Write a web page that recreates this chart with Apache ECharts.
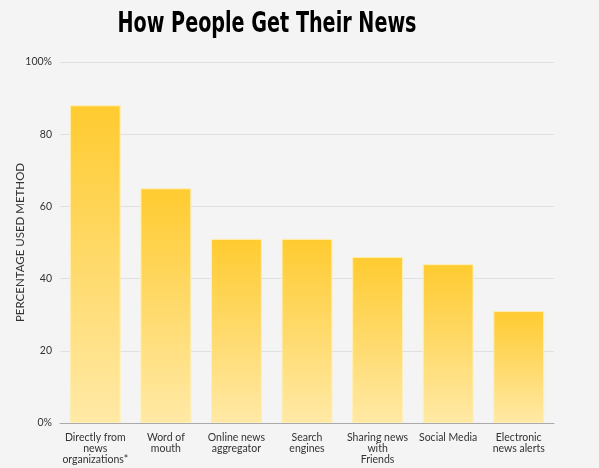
<!DOCTYPE html>
<html><head><meta charset="utf-8">
<script src="https://cdn.jsdelivr.net/npm/echarts@6/dist/echarts.min.js"></script>
<style>html,body{margin:0;padding:0;background:#f4f4f4}#c{width:599px;height:468px}</style>
</head><body><div id="c"></div>
<script>
const categories = ["Directly from\nnews\norganizations*", "Word of\nmouth", "Online news\naggregator", "Search\nengines", "Sharing news\nwith\nFriends", "Social Media", "Electronic\nnews alerts"];
const values = [88, 65, 51, 51, 46, 44, 31];
const yTicks = [0, 20, 40, 60, 80, 100];
const titleText = 'How People Get Their News';

const chart = echarts.init(document.getElementById('c'));
chart.setOption({
  backgroundColor: '#f4f4f4',
  graphic: [{
    type: 'text', x: 267, y: 24, scaleX: 0.735,
    style: { text: titleText, fontFamily: 'DejaVu Sans Condensed', fontWeight: 'bold', fontSize: 29,
      fill: '#000', align: 'center', verticalAlign: 'middle' }
  }],
  grid: { left: 60, right: 45, top: 62, bottom: 45, outerBoundsMode: 'none', containLabel: false },
  xAxis: {
    type: 'category', data: categories,
    axisTick: { show: false },
    axisLine: { lineStyle: { color: '#aaa', width: 1 } },
    axisLabel: { interval: 0, color: '#333', fontFamily: 'Lato', fontSize: 10.5, lineHeight: 11, margin: 9 }
  },
  yAxis: {
    type: 'value', min: 0, max: 100, interval: 20,
    name: 'PERCENTAGE USED METHOD', nameLocation: 'middle', nameGap: 34, nameRotate: 90,
    nameMoveOverlap: false,
    nameTextStyle: { color: '#333', fontFamily: 'Lato', fontSize: 11.5 },
    axisLine: { show: false }, axisTick: { show: false },
    splitLine: { lineStyle: { color: '#e0e0e0' } },
    axisLabel: { color: '#333', fontFamily: 'Lato', fontSize: 10.5, margin: 8,
      formatter: v => (v === yTicks[0] || v === yTicks[yTicks.length-1]) ? v + '%' : String(v) }
  },
  series: [{
    type: 'bar', data: values, barWidth: '72%',
    itemStyle: {
      color: new echarts.graphic.LinearGradient(0, 0, 0, 1, [
        { offset: 0, color: '#ffcb30' }, { offset: 1, color: '#ffe9a6' }
      ]),
      borderColor: 'rgba(255,240,180,0.6)', borderWidth: 1
    }
  }]
});
</script></body></html>
